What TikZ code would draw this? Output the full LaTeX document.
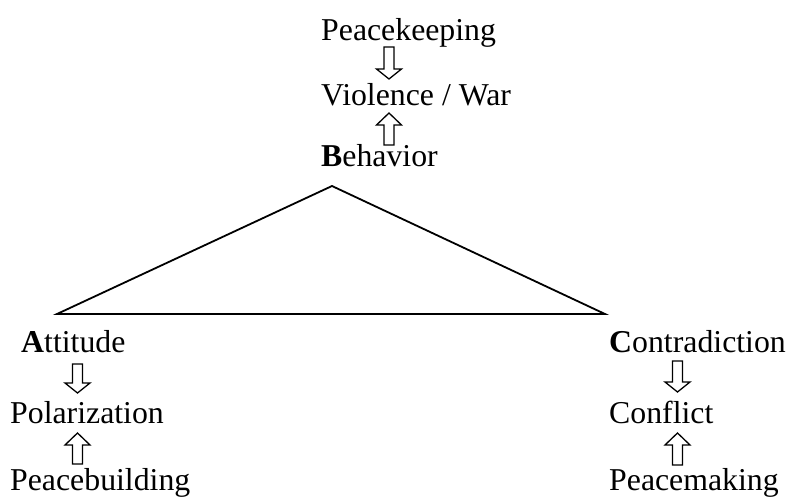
\documentclass[tikz,border=0pt]{standalone}
\usepackage{fontspec}
\setmainfont{Liberation Serif}
\newcommand\downblock[3]{\draw[blockarrow] ({#1-5},#2) -- ({#1+5},#2) -- ({#1+5},{#3-10}) -- ({#1+12.5},{#3-10}) -- (#1,#3) -- ({#1-12.5},{#3-10}) -- ({#1-5},{#3-10}) -- cycle;}
\newcommand\upblock[3]{\draw[blockarrow] ({#1-5},#2) -- ({#1+5},#2) -- ({#1+5},{#3+12}) -- ({#1+12.5},{#3+12}) -- (#1,#3) -- ({#1-12.5},{#3+12}) -- ({#1-5},{#3+12}) -- cycle;}
\begin{document}
\begin{tikzpicture}[x=1pt,y=-1pt,
  lbl/.style={anchor=base west,inner sep=0pt,font=\fontsize{31.8}{34}\selectfont},
  blockarrow/.style={draw=black,fill=white,line width=1.3pt,line join=miter},
  tri/.style={draw=black,line width=1.8pt,line join=miter}]
\useasboundingbox (0,0) rectangle (788,500);
% top column
\node[lbl] (pk) at (321,41) {Peacekeeping};
\node[lbl] (vw) at (321,106) {Violence / War};
\node[lbl] (bh) at (321,167) {\textbf{B}ehavior};
% left column
\node[lbl] (at) at (21,352) {\textbf{A}ttitude};
\node[lbl] (po) at (10,423) {Polarization};
\node[lbl] (pb) at (10,490) {Peacebuilding};
% right column
\node[lbl] (co) at (609,352) {\textbf{C}ontradiction};
\node[lbl] (cf) at (609,423) {Conflict};
\node[lbl] (pm) at (609,490) {Peacemaking};
% triangle
\coordinate (tB) at (332,186);
\coordinate (tA) at (57,314);
\coordinate (tC) at (605,314);
\draw[tri] (tB) -- (tA) -- (tC) -- cycle;
% block arrows
\downblock{389}{47}{79}
\upblock{389}{145}{113}
\downblock{77.5}{364}{393}
\upblock{77.5}{464}{433}
\downblock{677.5}{361}{392}
\upblock{677.5}{465}{433}
\end{tikzpicture}
\end{document}
